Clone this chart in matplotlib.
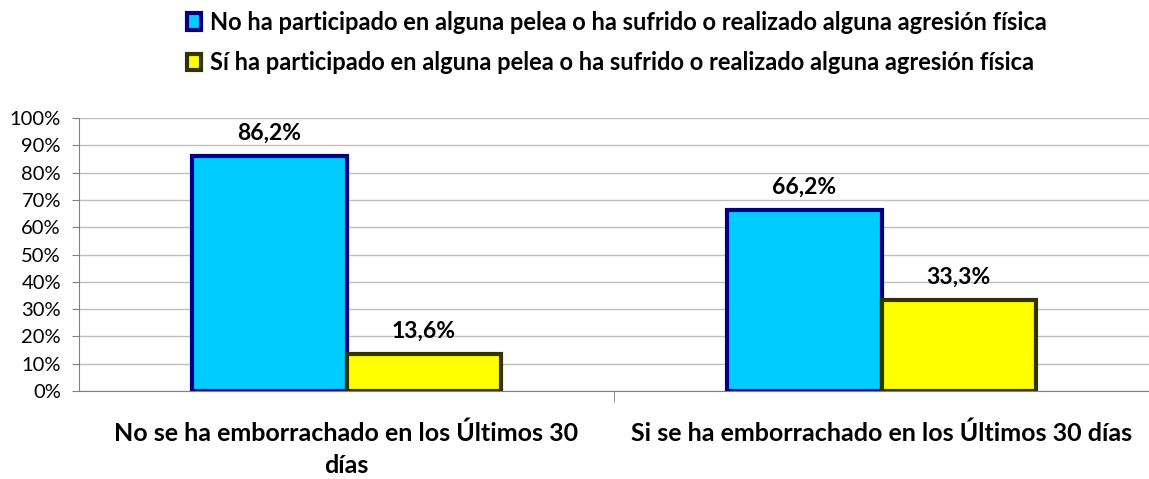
import numpy as np
import matplotlib
matplotlib.use("Agg")
import matplotlib.pyplot as plt

plt.rcParams['font.family'] = ['Lato', 'DejaVu Sans']

categories = ["No se ha emborrachado en los Últimos 30\ndías",
              "Si se ha emborrachado en los Últimos 30 días"]
series_names = ["No ha participado en alguna pelea o ha sufrido o realizado alguna agresión física",
                "Sí ha participado en alguna pelea o ha sufrido o realizado alguna agresión física"]
no_pelea = [86.2, 66.2]
si_pelea = [13.6, 33.3]
yticks = [0, 10, 20, 30, 40, 50, 60, 70, 80, 90, 100]

fig = plt.figure(figsize=(11.49, 4.79), dpi=100)
ax = fig.add_axes([79/1149, 1 - 391/479, 1 - 79/1149, (391 - 118)/479])

x = np.arange(len(categories))
w = 0.288
b1 = ax.bar(x - w/2, no_pelea, w, color='#00ccff', edgecolor='#000080', linewidth=3,
            label=series_names[0], zorder=3)
b2 = ax.bar(x + w/2, si_pelea, w, color='#ffff00', edgecolor='#333300', linewidth=3,
            label=series_names[1], zorder=3)

for bars, vals in ((b1, no_pelea), (b2, si_pelea)):
    for r, v in zip(bars, vals):
        ax.text(r.get_x() + r.get_width()/2, v + 4.5, f"{v:.1f}%".replace('.', ','),
                ha='center', va='bottom', fontsize=16.5, fontweight='bold')

ax.set_xlim(-0.5, 1.5)
ax.set_ylim(0, 100)
ax.set_yticks(yticks)
ax.set_yticklabels([f"{t}%" for t in yticks], fontsize=14.5)
ax.yaxis.grid(True, color='#c0c0c0', linewidth=1, zorder=0)
ax.set_axisbelow(True)

ax.set_xticks(x)
ax.set_xticklabels(categories, fontsize=18, fontweight='bold', linespacing=1.45)
ax.tick_params(axis='x', length=0, pad=22)
ax.set_xticks([0.5], minor=True)
ax.tick_params(axis='x', which='minor', length=8, color='#808080', direction='out')
ax.tick_params(axis='y', length=5, color='#808080', direction='out', pad=8)

for s in ('top', 'right'):
    ax.spines[s].set_visible(False)
ax.spines['left'].set_color('#808080')
ax.spines['bottom'].set_color('#808080')

fig.legend(handles=[b1, b2], loc='upper center', bbox_to_anchor=(0.537, 1.022),
           frameon=False, prop={'weight': 'bold', 'size': 17},
           handlelength=0.6, handleheight=0.7, handletextpad=0.4, labelspacing=0.75)

fig.savefig("out.png", dpi=100)
